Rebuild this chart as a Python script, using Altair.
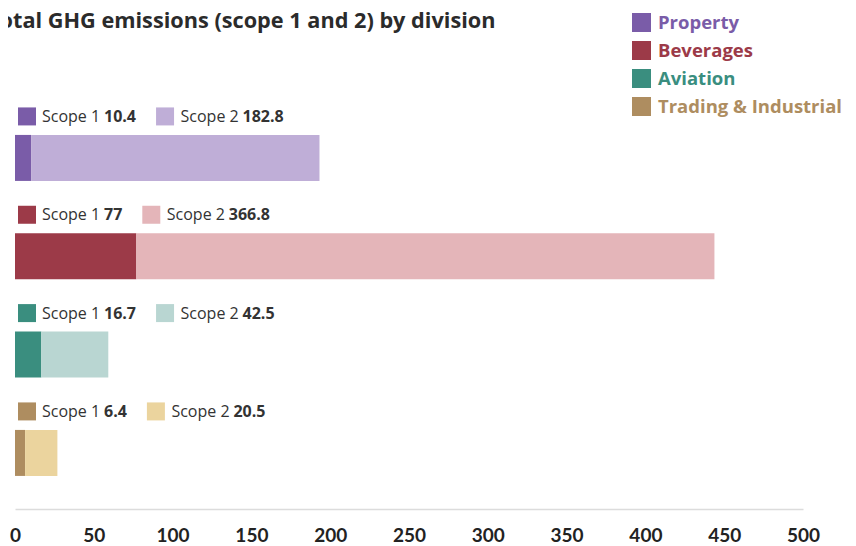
import altair as alt
import pandas as pd

divisions = ["Property", "Beverages", "Aviation", "Trading & Industrial"]
scope1 = [10.4, 77, 16.7, 6.4]
scope2 = [182.8, 366.8, 42.5, 20.5]
dark = ["#7a5ca8", "#9c3a48", "#3a8e7f", "#ae8d60"]
light = ["#bfaed7", "#e4b5b9", "#b9d6d2", "#ebd49e"]
x_ticks = [0, 50, 100, 150, 200, 250, 300, 350, 400, 450, 500]
title_text = "Total GHG emissions (scope 1 and 2) by division"


def fmt(v):
    return f"{v:g}"


bars = pd.DataFrame(
    [{"division": d, "scope": 1, "value": s1, "key": d + "|1"} for d, s1 in zip(divisions, scope1)]
    + [{"division": d, "scope": 2, "value": s2, "key": d + "|2"} for d, s2 in zip(divisions, scope2)]
)
rows = pd.DataFrame({
    "division": divisions,
    "t1": [fmt(v) for v in scope1],
    "t2": [fmt(v) for v in scope2],
    "key2": [d + "|2" for d in divisions],
})

keys = [d + "|1" for d in divisions] + [d + "|2" for d in divisions]
key_colors = dark + light

ycfg = alt.Y("division:N", sort=divisions,
             scale=alt.Scale(paddingInner=0, paddingOuter=0.0797, align=0.559),
             axis=None)

label_expr = " : ".join(f"datum.label == '{d}' ? '{c}'" for d, c in zip(divisions, dark)) + " : '#333'"

bar_layer = alt.Chart(bars).mark_bar(size=46).encode(
    x=alt.X("value:Q", stack="zero",
            scale=alt.Scale(domain=[0, 500], nice=False),
            axis=alt.Axis(values=x_ticks, ticks=False, grid=False, title=None,
                          domainColor="#dcdcdc", domainWidth=1.5,
                          labelFont="Lato", labelFontSize=19, labelFontWeight="bold",
                          labelColor="#222", labelPadding=17, labelFlush=False,
                          labelOverlap=False)),
    y=ycfg,
    color=alt.Color("key:N", scale=alt.Scale(domain=keys, range=key_colors), legend=None),
    order=alt.Order("scope:Q"),
)

width_expr = "9.15 * (length(datum.t1) - (indexof(datum.t1, '.') >= 0 ? 1 : 0)) + (indexof(datum.t1, '.') >= 0 ? 4.6 : 0)"

base = alt.Chart(rows).transform_calculate(
    sq2x=f"89 + {width_expr} + 29",
).transform_calculate(
    s2x="datum.sq2x + 15.5",
    v2x="datum.sq2x + 15.5 + 62",
)

sq1 = base.mark_square(size=324, yOffset=-41.5, opacity=1).encode(
    x=alt.value(12),
    y=ycfg,
    fill=alt.Fill("division:N", scale=alt.Scale(domain=divisions, range=dark),
                  legend=alt.Legend(orient="none", legendX=617, legendY=-87, title=None,
                                    symbolType="square", symbolSize=361,
                                    symbolStrokeWidth=0, rowPadding=9,
                                    labelFont="Open Sans", labelFontSize=18.5,
                                    labelFontWeight="bold", labelOffset=7,
                                    labelLimit=400,
                                    labelColor=alt.ExprRef(expr=label_expr))),
)

txt_font = dict(font="Open Sans", fontSize=16, align="left", baseline="middle",
                color="#333", yOffset=-41)

s1_txt = base.mark_text(**txt_font).encode(x=alt.value(27), y=ycfg, text=alt.value("Scope 1"))
v1_txt = base.mark_text(fontWeight="bold", **txt_font).encode(
    x=alt.value(89), y=ycfg, text="t1:N")

sq2 = base.mark_square(size=324, yOffset=-41.5, opacity=1).encode(
    x=alt.X("sq2x:Q", scale=None, axis=None),
    y=ycfg,
    color=alt.Color("key2:N", scale=alt.Scale(domain=keys, range=key_colors), legend=None),
)
s2_txt = base.mark_text(**txt_font).encode(
    x=alt.X("s2x:Q", scale=None, axis=None), y=ycfg, text=alt.value("Scope 2"))
v2_txt = base.mark_text(fontWeight="bold", **txt_font).encode(
    x=alt.X("v2x:Q", scale=None, axis=None), y=ycfg, text="t2:N")

chart = alt.layer(bar_layer, sq1, s1_txt, v1_txt, sq2, s2_txt, v2_txt).properties(
    width=788,
    height=409,
    padding={"left": 7, "top": 92, "right": 45, "bottom": 35},
    autosize=alt.AutoSizeParams(type="none"),
    background="white",
    title=alt.TitleParams(text=title_text, anchor="start", frame="group",
                          font="Open Sans", fontSize=21.7, fontWeight="bold",
                          color="#2b2b2b", dx=-28, dy=20, offset=0),
).configure_view(stroke=None)

chart.save("out.html", embed_options={"renderer": "svg", "actions": False})
